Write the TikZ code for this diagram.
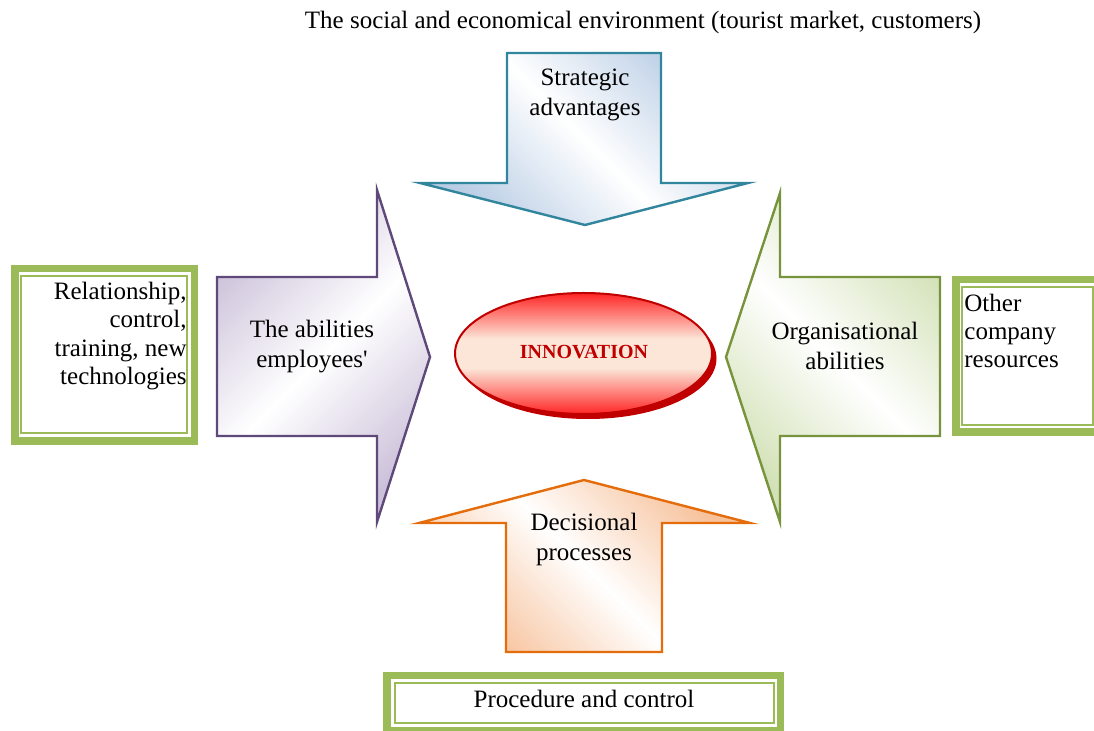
\documentclass[tikz,border=0pt]{standalone}
\usepackage{fontspec}
\setmainfont{Liberation Serif}[Ligatures=TeXOff]
\definecolor{tealline}{HTML}{31859C}
\definecolor{tealfill}{HTML}{B9CDE5}
\definecolor{purpleline}{HTML}{5F497A}
\definecolor{purplefill}{HTML}{CCC1DA}
\definecolor{oliveline}{HTML}{77933C}
\definecolor{olivefill}{HTML}{D2E1B6}
\definecolor{orangeline}{HTML}{E46C0A}
\definecolor{orangefill}{HTML}{F7C19A}
\definecolor{framegreen}{HTML}{9BBB59}
\definecolor{innovdark}{HTML}{C00000}
\definecolor{innovtop}{HTML}{FF2626}
\definecolor{innovmid}{HTML}{FCE6D8}
\pgfdeclareverticalshading{innovshade}{100bp}{color(0bp)=(innovtop); color(25bp)=(innovtop); color(44bp)=(innovmid); color(56bp)=(innovmid); color(75bp)=(innovtop); color(100bp)=(innovtop)}
\begin{document}
\begin{tikzpicture}[x=0.5pt,y=-0.5pt]
\tikzset{
  arrowline/.style={line width=1.2pt, line join=miter},
  softfill/.style={top color=#1, bottom color=#1, middle color=white},
  txt/.style={font=\fontsize{12.5}{15}\selectfont, align=center, inner sep=0pt},
  boxtxt/.style={font=\fontsize{12.5}{14.2}\selectfont, inner sep=0pt},
  framethick/.style={draw=framegreen, line width=3.75pt},
  framethin/.style={draw=framegreen, line width=0.8pt},
}
\useasboundingbox (0,0) rectangle (1094,731);
\clip (0,0) rectangle (1094,731);

% heading
\node[txt] (env) at (643,22) {The social and economical environment (tourist market, customers)};

% top arrow: strategic advantages
\draw[arrowline, draw=tealline, softfill=tealfill, shading angle=-45]
  (507,53) -- (661,53) -- (661,183) -- (748,183) -- (585,225) -- (420,183) -- (507,183) -- cycle;
\node[txt] (strat) at (585,95) {Strategic\\advantages};

% left arrow: employees' abilities
\draw[arrowline, draw=purpleline, softfill=purplefill, shading angle=45]
  (217,277) -- (377,277) -- (377,190) -- (430,357) -- (377,522) -- (377,436) -- (217,436) -- cycle;
\node[txt] (empl) at (312,347) {The abilities\\employees'};

% right arrow: organisational abilities
\draw[arrowline, draw=oliveline, softfill=olivefill, shading angle=-45]
  (940,277) -- (780,277) -- (780,193) -- (726,357) -- (780,522) -- (780,436) -- (940,436) -- cycle;
\node[txt] (org) at (845,346) {Organisational\\abilities};

% bottom arrow: decisional processes
\draw[arrowline, draw=orangeline, softfill=orangefill, shading angle=-45]
  (506,652) -- (662,652) -- (662,523) -- (750,523) -- (584,480) -- (419,523) -- (506,523) -- cycle;
\node[txt] (dec) at (584,539) {Decisional\\processes};

% central ellipse with offset shadow
\fill[innovdark] (588,358.5) ellipse [x radius=64.25pt, y radius=30.25pt];
\draw[draw=innovdark, line width=1pt, shading=innovshade] (583.5,353.5) ellipse [x radius=64.25pt, y radius=30.25pt];
\node[font=\fontsize{10}{12}\selectfont\bfseries, text=innovdark, inner sep=0pt] (innov) at (584,352) {INNOVATION};

% left frame
\draw[framethick] (14.75,268.75) rectangle (194.25,441.25);
\draw[framethin] (21,276) rectangle (187,433);
\node[boxtxt, align=right, anchor=east] (rel) at (187,336) {Relationship,\\control,\\training, new\\technologies};

% right frame
\draw[framethick] (955.75,279.75) rectangle (1100.25,432.25);
\draw[framethin] (962,287) rectangle (1093,425);
\node[boxtxt, align=left, anchor=west] (res) at (964,331) {Other\\company\\resources};

% bottom frame
\draw[framethick] (386.75,675.75) rectangle (780.25,731.25);
\draw[framethin] (395,683) rectangle (774,723);
\node[txt] (proc) at (584,699) {Procedure and control};
\end{tikzpicture}
\end{document}
